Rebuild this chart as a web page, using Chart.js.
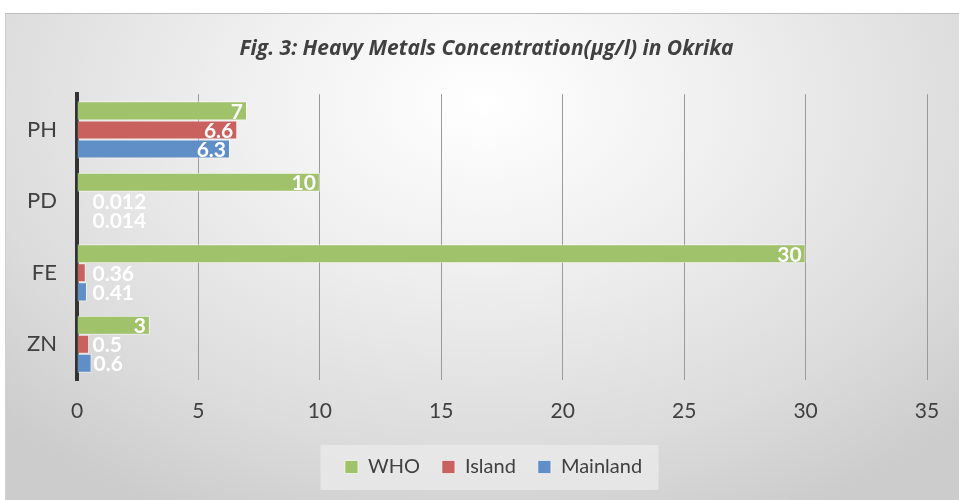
<!DOCTYPE html>
<html>
<head>
<meta charset="utf-8">
<script src="https://cdn.jsdelivr.net/npm/chart.js@4"></script>
<style>
  html, body { margin: 0; padding: 0; background: #ffffff; }
  #frame {
    position: absolute; left: 5px; top: 13px; width: 954px; height: 487px;
    border-top: 1px solid #bdbdbd; border-left: 1px solid #d0d0d0;
    box-sizing: border-box;
    background: radial-gradient(ellipse 70% 95% at 50% 18%, #ffffff 0%, #f0f0f0 35%, #dcdcdc 75%, #cccccc 100%);
  }
</style>
</head>
<body>
<div id="frame"><canvas id="chart" width="953" height="486"></canvas></div>
<script>
const categories = ['PH', 'PD', 'FE', 'ZN'];
const whoValues = [7, 10, 30, 3];
const islandValues = [6.6, 0.012, 0.36, 0.5];
const mainlandValues = [6.3, 0.014, 0.41, 0.6];
const xTicks = [0, 5, 10, 15, 20, 25, 30, 35];

const textColor = '#404040';

// white value labels, inside the bar end when they fit, otherwise just after it
const barLabels = {
  id: 'barLabels',
  afterDatasetsDraw(chart) {
    const ctx = chart.ctx;
    ctx.save();
    ctx.font = 'bold 21px Lato';
    ctx.fillStyle = '#ffffff';
    ctx.textBaseline = 'middle';
    chart.data.datasets.forEach((ds, i) => {
      chart.getDatasetMeta(i).data.forEach((bar, j) => {
        const text = String(ds.data[j]);
        const w = ctx.measureText(text).width;
        if (bar.x - bar.base > w + 8) {
          ctx.textAlign = 'right';
          ctx.fillText(text, bar.x - 4, bar.y + 1);
        } else {
          ctx.textAlign = 'left';
          ctx.fillText(text, Math.max(bar.x + 2, bar.base + 15), bar.y + 1);
        }
      });
    });
    ctx.restore();
  }
};

// title and legend sit a bit right of centre; legend on a light panel
const shiftBlocks = {
  id: 'shiftBlocks',
  afterLayout(chart) {
    chart.titleBlock.left += 20;
    chart.titleBlock.right += 20;
    chart.legend.left += 27;
    chart.legend.right += 27;
  },
  beforeDraw(chart) {
    const lg = chart.legend;
    const cx = (lg.left + lg.right) / 2 - 4;
    const cy = lg.top + 22 + 10;
    const ctx = chart.ctx;
    ctx.save();
    ctx.fillStyle = 'rgba(232,232,232,0.9)';
    ctx.fillRect(cx - 169, cy - 22, 338, 45);
    ctx.restore();
  }
};

new Chart(document.getElementById('chart'), {
  type: 'bar',
  data: {
    labels: categories,
    datasets: [
      { label: 'WHO', data: whoValues, backgroundColor: '#a0c26a', borderColor: 'rgba(255,255,255,0.6)', borderWidth: 1 },
      { label: 'Island', data: islandValues, backgroundColor: '#c9625e', borderColor: 'rgba(255,255,255,0.6)', borderWidth: 1 },
      { label: 'Mainland', data: mainlandValues, backgroundColor: '#5f8fc6', borderColor: 'rgba(255,255,255,0.6)', borderWidth: 1 }
    ]
  },
  options: {
    indexAxis: 'y',
    responsive: false,
    animation: false,
    datasets: { bar: { categoryPercentage: 0.8, barPercentage: 1.0 } },
    layout: { padding: { left: 0, right: 32, top: 0, bottom: 13 } },
    scales: {
      x: {
        min: 0, max: 35,
        afterBuildTicks: scale => { scale.ticks = xTicks.map(v => ({ value: v })); },
        afterFit: scale => { scale.height = 55; },
        grid: { color: '#9a9a9a', drawTicks: false },
        border: { display: false },
        ticks: { color: textColor, font: { family: 'Lato', size: 21 }, padding: 19 }
      },
      y: {
        afterFit: scale => { scale.width = 71; },
        grid: { display: false },
        border: { display: true, color: '#333333', width: 4 },
        ticks: { color: textColor, font: { family: 'Lato', size: 22 }, padding: 12 }
      }
    },
    plugins: {
      title: {
        display: true,
        text: 'Fig. 3: Heavy Metals Concentration(µg/l) in Okrika',
        color: textColor,
        font: { family: 'Open Sans', size: 21, weight: 'bold', style: 'italic' },
        padding: { top: 22, bottom: 33 }
      },
      legend: {
        position: 'bottom',
        labels: {
          color: textColor,
          font: { family: 'Lato', size: 20 },
          boxWidth: 13, boxHeight: 13,
          padding: 22
        }
      },
      tooltip: { enabled: false }
    }
  },
  plugins: [barLabels, shiftBlocks]
});
</script>
</body>
</html>
